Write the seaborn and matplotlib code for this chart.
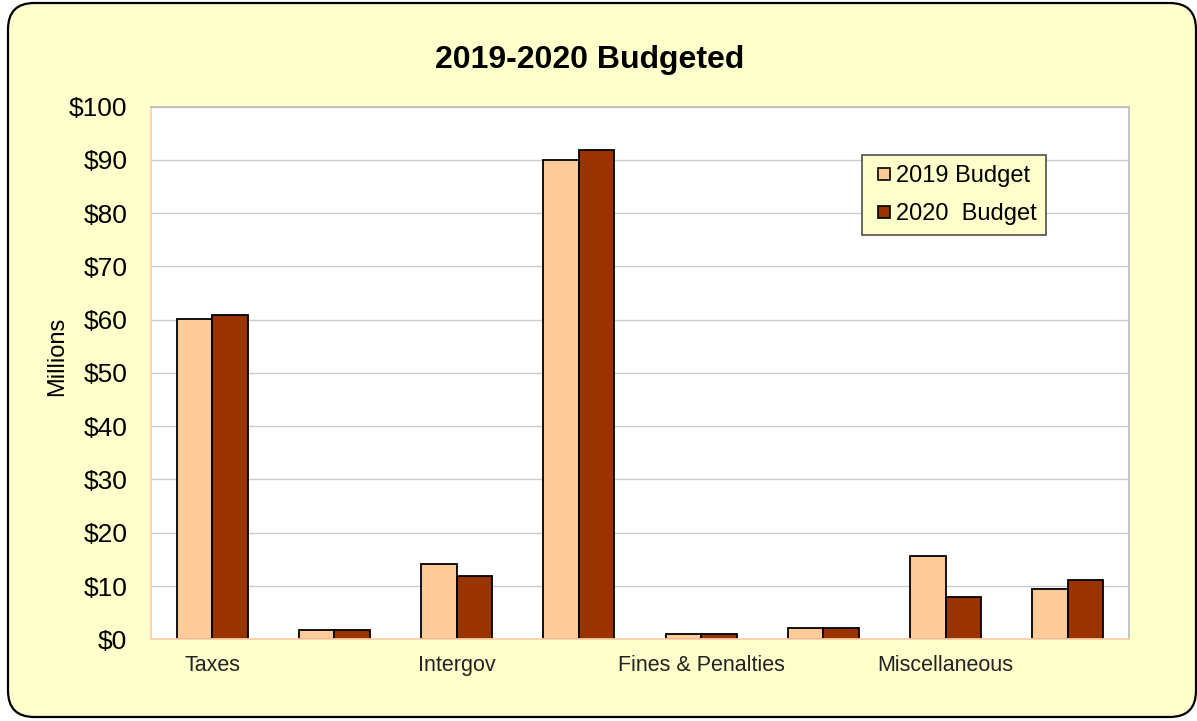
import matplotlib
matplotlib.use("Agg")
import matplotlib.pyplot as plt
from matplotlib.patches import FancyBboxPatch
from matplotlib.lines import Line2D
import seaborn as sns
import pandas as pd
import numpy as np

# Revenue sources (every other label is shown on the axis)
slot_labels = ["Taxes", "", "Intergov", "", "Fines & Penalties", "", "Miscellaneous", ""]
budget_2019 = [60.2, 1.7, 14.1, 90.0, 1.0, 2.2, 15.7, 9.4]
budget_2020 = [60.8, 1.7, 11.9, 91.9, 1.0, 2.2, 8.0, 11.1]
series_names = ["2019 Budget", "2020  Budget"]
series_colors = ["#FFCC99", "#993300"]
y_ticks = list(range(0, 101, 10))

slots = list(range(len(slot_labels)))
df = pd.DataFrame({
    "slot": slots * 2,
    "value": budget_2019 + budget_2020,
    "series": [series_names[0]] * len(slots) + [series_names[1]] * len(slots),
})

sns.set_theme(style="white")
plt.rcParams["font.family"] = ["Liberation Sans", "DejaVu Sans"]
plt.rcParams["text.color"] = "black"
plt.rcParams["axes.labelcolor"] = "black"
plt.rcParams["xtick.color"] = "black"
plt.rcParams["ytick.color"] = "black"

W, H = 1197, 721
fig = plt.figure(figsize=(W / 100, H / 100), dpi=100)
fig.patch.set_facecolor("white")

# Rounded chart frame, kept behind the axes
frame = FancyBboxPatch((8 / W, 4 / H), (1188 / W), (714 / H),
                       boxstyle="round,pad=0,rounding_size=0.022",
                       transform=fig.transFigure, facecolor="#FFFFCC",
                       edgecolor="black", linewidth=1.6, zorder=-5,
                       mutation_aspect=W / H)
fig.patches.append(frame)

left, right, top, bottom = 151, 1129, 106.5, 639.3
ax = fig.add_axes([left / W, 1 - bottom / H, (right - left) / W, (bottom - top) / H])
ax.set_zorder(2)
ax.set_facecolor("white")

sns.barplot(data=df, x="slot", y="value", hue="series", order=slots,
            hue_order=series_names, palette=series_colors, width=0.58,
            edgecolor="black", linewidth=1.3, saturation=1, ax=ax, legend=False)

ax.set_xlim(-0.5, len(slots) - 0.5)
ax.set_ylim(0, 100)
ax.set_yticks(y_ticks)
ax.set_yticklabels([f"${v}" for v in y_ticks], fontsize=19)
ax.set_xticks(slots)
ax.set_xticklabels(slot_labels, fontsize=15.5, color="#222222")
ax.set_xticks(np.arange(-0.5, len(slots), 1.0), minor=True)
ax.tick_params(axis="x", which="major", length=0, pad=11)
ax.tick_params(axis="x", which="minor", length=6, width=1, color="#FFCFA6", direction="out")
ax.tick_params(axis="y", which="major", length=6, width=1, color="#FFCFA6",
               direction="out", pad=11, labelcolor="black")
ax.set_xlabel("")
ax.set_ylabel("")

ax.yaxis.grid(True, color="#CCCCCC", linewidth=1.0)
ax.set_axisbelow(True)
for side in ("top", "right"):
    ax.spines[side].set_color("#C0C0C0")
    ax.spines[side].set_linewidth(1.3)
for side in ("left", "bottom"):
    ax.spines[side].set_color("#FFCFA6")
    ax.spines[side].set_linewidth(1.3)

fig.text(590 / W, 1 - 60 / H, "2019-2020 Budgeted", ha="center", va="center",
         fontsize=23, fontweight="bold", color="black")
fig.text(57 / W, 1 - 356 / H, "Millions", ha="center", va="center",
         rotation=90, fontsize=17, color="black")

handles = [Line2D([], [], linestyle="none", marker="s", markersize=8.5,
                  markerfacecolor=c, markeredgecolor="black", markeredgewidth=1.2)
           for c in series_colors]
leg = ax.legend(handles, series_names, loc="upper left",
                bbox_to_anchor=(862 / W, 1 - 155 / H), bbox_transform=fig.transFigure,
                fontsize=17, frameon=True, fancybox=False, framealpha=1,
                facecolor="#FFFFCC", edgecolor="#404040", handlelength=1.0,
                handletextpad=0.0, labelspacing=0.7, borderpad=0.42,
                borderaxespad=0)
leg.get_frame().set_linewidth(1.1)

fig.savefig("out.png", dpi=100, facecolor=fig.get_facecolor())
